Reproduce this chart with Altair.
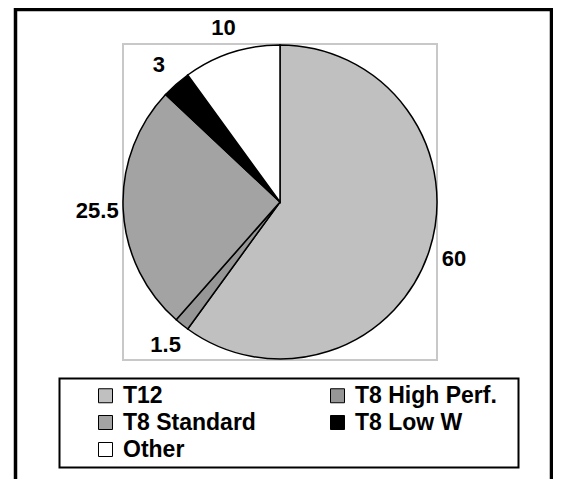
import altair as alt
import pandas as pd

categories = ["T12", "T8 High Perf.", "T8 Standard", "T8 Low W", "Other"]
values = [60, 1.5, 25.5, 3, 10]
labels = ["60", "1.5", "25.5", "3", "10"]
colors = ["#c0c0c0", "#969696", "#a3a3a3", "#000000", "#ffffff"]

# legend is filled column by column: T12 / T8 Standard / Other, then T8 High Perf. / T8 Low W
legend_order = ["T12", "T8 Standard", "Other", "T8 High Perf.", "T8 Low W"]
legend_colors = [colors[categories.index(c)] for c in legend_order]

df = pd.DataFrame({
    "category": categories,
    "value": values,
    "label": labels,
    "order": list(range(len(categories))),
})

FONT = "Liberation Sans"

color = alt.Color(
    "category:N",
    scale=alt.Scale(domain=legend_order, range=legend_colors),
    legend=alt.Legend(
        title=None,
        orient="none",
        legendX=-29,
        legendY=340,
        columns=2,
        columnPadding=70,
        rowPadding=3,
        symbolType="square",
        symbolSize=196,
        symbolStrokeColor="black",
        symbolStrokeWidth=1,
        labelFont=FONT,
        labelFontSize=23,
        labelFontWeight="bold",
        labelColor="black",
        labelOffset=6,
        labelLimit=300,
        padding=0,
    ),
)

base = alt.Chart(df)

pie = base.mark_arc(radius=157, stroke="black", strokeWidth=1.5).encode(
    theta=alt.Theta("value:Q", stack=True),
    color=color,
    order=alt.Order("order:Q"),
)

text = base.mark_text(radius=183, font=FONT, fontSize=22, fontWeight="bold", color="black").encode(
    theta=alt.Theta("value:Q", stack=True),
    text="label:N",
    order=alt.Order("order:Q"),
)

one = pd.DataFrame({"k": [0]})

frame = alt.Chart(one).mark_rect(fillOpacity=0, stroke="black", strokeWidth=3.5).encode(
    x=alt.value(-107.5), x2=alt.value(428.5), y=alt.value(-34.5), y2=alt.value(456)
)

legend_box = alt.Chart(one).mark_rect(fillOpacity=0, stroke="black", strokeWidth=2).encode(
    x=alt.value(-63.5), x2=alt.value(395.5), y=alt.value(334.5), y2=alt.value(423.5)
)

chart = alt.layer(frame, legend_box, pie, text).properties(
    width=314,
    height=316,
    autosize=alt.AutoSizeParams(type="none"),
    padding={"left": 115, "top": 36, "right": 116, "bottom": 119},
    background="white",
).configure_view(stroke="#c8c8c8", strokeWidth=2)

chart.save("out.html", embed_options={"renderer": "svg", "actions": False})
